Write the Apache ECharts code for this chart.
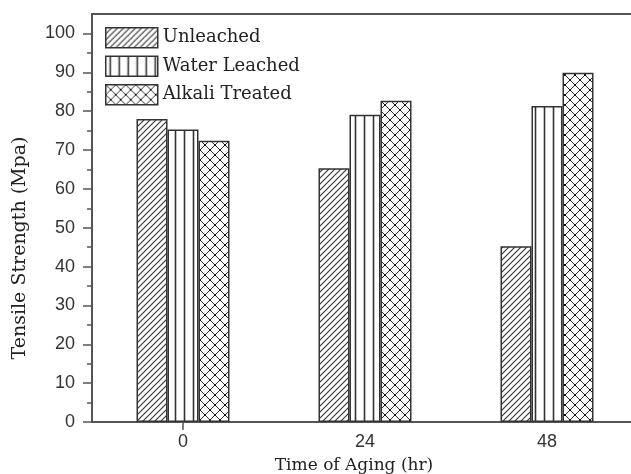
<!DOCTYPE html>
<html>
<head>
<meta charset="utf-8">
<script src="https://cdn.jsdelivr.net/npm/echarts@6/dist/echarts.min.js"></script>
<style>
html,body{margin:0;padding:0;background:#fff;}
#chart{width:631px;height:474px;}
</style>
</head>
<body>
<div id="chart"></div>
<script>
// ---- data ----
var categories = ['0', '24', '48'];
var seriesNames = ['Unleached', 'Water Leached', 'Alkali Treated'];
var unleached = [78.0, 65.3, 45.2];
var waterLeached = [75.3, 79.1, 81.3];
var alkaliTreated = [72.4, 82.7, 89.9];
var yMajorTicks = [0, 10, 20, 30, 40, 50, 60, 70, 80, 90, 100];
var yMinorTicks = [5, 15, 25, 35, 45, 55, 65, 75, 85, 95];

// ---- fill patterns ----
function makePattern(kind) {
  var c = document.createElement('canvas');
  var s = kind === 'hatch' ? 6 : (kind === 'vert' ? 9 : 10);
  c.width = s; c.height = kind === 'vert' ? 4 : s;
  var g = c.getContext('2d');
  g.fillStyle = '#fff';
  g.fillRect(0, 0, c.width, c.height);
  g.strokeStyle = '#333';
  if (kind === 'hatch') {
    g.lineWidth = 1.1;
    g.beginPath();
    g.moveTo(-1, s + 1); g.lineTo(s + 1, -1);
    g.moveTo(-1, 1); g.lineTo(1, -1);
    g.moveTo(s - 1, s + 1); g.lineTo(s + 1, s - 1);
    g.stroke();
  } else if (kind === 'vert') {
    g.lineWidth = 1.6;
    g.beginPath();
    g.moveTo(4.5, 0); g.lineTo(4.5, c.height);
    g.stroke();
  } else {
    g.lineWidth = 1;
    g.beginPath();
    g.moveTo(0, 0); g.lineTo(s, s);
    g.moveTo(s, 0); g.lineTo(0, s);
    g.stroke();
    g.fillStyle = '#111';
    g.fillRect(s / 2 - 1, s / 2 - 1, 2, 2);
    g.fillRect(0, 0, 1, 1); g.fillRect(s - 1, 0, 1, 1);
    g.fillRect(0, s - 1, 1, 1); g.fillRect(s - 1, s - 1, 1, 1);
  }
  return { image: c, repeat: 'repeat' };
}

var chart = echarts.init(document.getElementById('chart'), null, { renderer: 'canvas' });

var barStyle = function (kind) {
  return { color: makePattern(kind), borderColor: '#333', borderWidth: 1.5 };
};

var option = {
  animation: false,
  backgroundColor: '#fff',
  grid: {
    left: 92, top: 14, width: 546, bottom: 52,
    containLabel: false,
    outerBoundsMode: 'none',
    show: true, borderColor: '#555', borderWidth: 2, backgroundColor: 'transparent'
  },
  legend: {
    orient: 'vertical', left: 100, top: 22,
    itemWidth: 52, itemHeight: 20, itemGap: 7,
    icon: 'rect',
    data: seriesNames,
    textStyle: { fontFamily: 'DejaVu Serif', fontSize: 18, color: '#222' },
    itemStyle: { borderColor: '#333', borderWidth: 1.5 }
  },
  xAxis: {
    type: 'category',
    data: categories,
    name: 'Time of Aging (hr)',
    nameLocation: 'middle',
    nameGap: 35,
    nameTextStyle: { fontFamily: 'DejaVu Serif', fontSize: 17, color: '#222', padding: [0, 22, 0, 0] },
    axisLine: { lineStyle: { color: '#555', width: 2 } },
    axisTick: { show: true, alignWithLabel: true, length: 8, interval: function (i) { return i === 0; }, lineStyle: { color: '#555', width: 1.5 } },
    axisLabel: { fontFamily: 'Liberation Sans', fontSize: 18, color: '#333', margin: 11 },
    splitLine: { show: false }
  },
  yAxis: [{
    type: 'value',
    min: 0, max: 105, interval: 10,
    name: 'Tensile Strength (Mpa)',
    nameLocation: 'middle',
    nameGap: 62,
    nameRotate: 90,
    nameTextStyle: { fontFamily: 'DejaVu Serif', fontSize: 19, color: '#222', padding: [0, 60, 0, 0] },
    axisLine: { show: true, lineStyle: { color: '#555', width: 2 } },
    axisTick: { show: true, length: 9, customValues: yMajorTicks, lineStyle: { color: '#555', width: 1.5 } },
    axisLabel: { fontFamily: 'Liberation Sans', fontSize: 18, color: '#333', margin: 17, customValues: yMajorTicks },
    splitLine: { show: false }
  }, {
    type: 'value',
    min: 0, max: 105, interval: 10,
    position: 'left',
    axisLine: { show: false },
    axisTick: { show: true, length: 5, customValues: yMinorTicks, lineStyle: { color: '#555', width: 1.5 } },
    axisLabel: { show: false },
    splitLine: { show: false }
  }],
  series: [
    { name: seriesNames[0], type: 'bar', data: unleached, barWidth: 31, barGap: '0%', itemStyle: barStyle('hatch') },
    { name: seriesNames[1], type: 'bar', data: waterLeached, barWidth: 31, barGap: '0%', itemStyle: barStyle('vert') },
    { name: seriesNames[2], type: 'bar', data: alkaliTreated, barWidth: 31, barGap: '0%', itemStyle: barStyle('cross') }
  ]
};
chart.setOption(option);
</script>
</body>
</html>
